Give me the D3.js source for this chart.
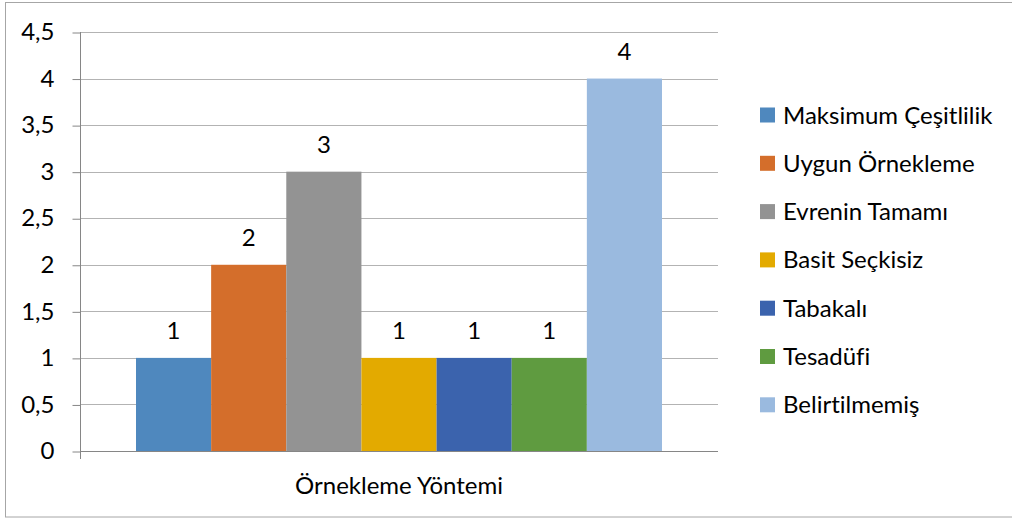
<!DOCTYPE html>
<html><head><meta charset="utf-8">
<script src="https://cdn.jsdelivr.net/npm/d3@7"></script>
<style>body{margin:0;background:#fff}svg{display:block}text{font-family:Lato,"Open Sans",sans-serif;fill:#000;font-variant-ligatures:none}</style>
</head><body>
<svg id="c" width="1012" height="519"></svg>
<script>
const categories = ["Örnekleme Yöntemi"];
const series = ["Maksimum Çeşitlilik","Uygun Örnekleme","Evrenin Tamamı","Basit Seçkisiz","Tabakalı","Tesadüfi","Belirtilmemiş"];
const values = [1,2,3,1,1,1,4];
const colors = ["#4f88be","#d46e2b","#939393","#e3aa00","#3b63ad","#5f9b40","#9abadf"];
const yTicks = [0,0.5,1,1.5,2,2.5,3,3.5,4,4.5];

const FS = 24;
const svg = d3.select("#c");
svg.append("rect").attr("x",5.5).attr("y",2.5).attr("width",1030).attr("height",514.5)
  .attr("fill","#fff").attr("stroke","#a6a6a6").attr("stroke-width",1);

const L=80, R=718, T=32, B=451;
const y = d3.scaleLinear().domain([0,4.5]).range([B,T]);
const x0 = d3.scaleBand().domain(categories).range([L,R]);
const groupW = 526;
const x1 = d3.scaleBand().domain(series).range([0,groupW]);
const gx = x0(categories[0]) + (x0.bandwidth()-groupW)/2;

// gridlines
svg.append("g").selectAll("line").data(yTicks.filter(d=>d>0)).join("line")
  .attr("x1",L).attr("x2",R).attr("y1",d=>Math.round(y(d))+0.5).attr("y2",d=>Math.round(y(d))+0.5)
  .attr("stroke","#b3b3b3").attr("stroke-width",1);

// bars
const g = svg.append("g").attr("transform",`translate(${gx},0)`);
g.selectAll("rect").data(series).join("rect")
  .attr("x",d=>x1(d)).attr("width",x1.bandwidth())
  .attr("y",(d,i)=>y(values[i])).attr("height",(d,i)=>B-y(values[i]))
  .attr("fill",(d,i)=>colors[i]);
g.selectAll("text").data(series).join("text")
  .attr("x",d=>x1(d)+x1.bandwidth()/2).attr("y",(d,i)=>y(values[i])-19)
  .attr("text-anchor","middle").attr("font-size",FS).text((d,i)=>String(values[i]).replace(".",","));

// y axis
const yAxis = d3.axisLeft(y).tickValues(yTicks).tickSize(8).tickPadding(18)
  .tickFormat(d=>String(d).replace(".",","));
const ya = svg.append("g").attr("transform",`translate(${L+0.5},0)`).call(yAxis);
ya.select(".domain").remove();
ya.selectAll(".tick line").attr("stroke","#868686").attr("transform","translate(0,0.5)");
ya.selectAll(".tick text").attr("font-size",FS).attr("font-family","Lato").attr("fill","#000");
svg.append("line").attr("x1",L+0.5).attr("x2",L+0.5).attr("y1",T).attr("y2",B+8).attr("stroke","#868686");

// x axis
const xAxis = d3.axisBottom(x0).tickSize(0).tickPadding(0);
const xa = svg.append("g").attr("transform",`translate(0,${B+0.5})`).call(xAxis);
xa.select(".domain").attr("stroke","#868686").attr("d",`M${L},0H${R}`);
xa.selectAll(".tick text").attr("font-size",FS).attr("font-family","Lato").attr("fill","#000").attr("dy",null).attr("y",42);

// legend
const lg = svg.append("g").attr("transform","translate(760,115)");
const rows = lg.selectAll("g").data(series).join("g").attr("transform",(d,i)=>`translate(0,${i*48.3})`);
rows.append("rect").attr("x",0).attr("y",-7.5).attr("width",15).attr("height",15).attr("fill",(d,i)=>colors[i]);
rows.append("text").attr("x",23).attr("y",8.5).attr("font-size",FS).text(d=>d);
</script>
</body></html>
